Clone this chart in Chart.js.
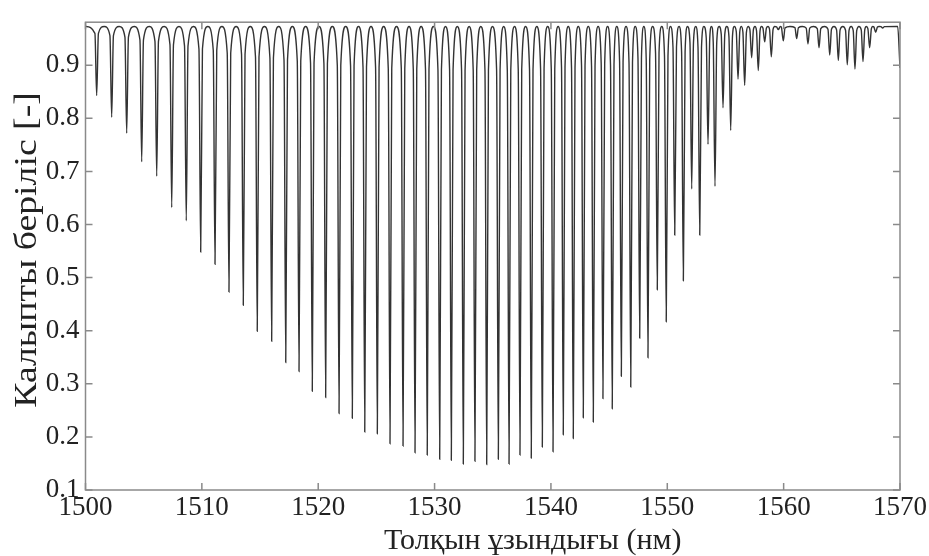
<!DOCTYPE html>
<html>
<head>
<meta charset="utf-8">
<script src="https://cdn.jsdelivr.net/npm/chart.js@4.4.0/dist/chart.umd.min.js"></script>
<style>
html, body { margin: 0; padding: 0; background: #fff; }
</style>
</head>
<body>
<canvas id="myChart" width="929" height="556"></canvas>
<script>
// резонанс минимумдары (толқын ұзындығы, нм) және олардың тереңдігі
var dipNm = [
  1500.96, 1502.25, 1503.54, 1504.83, 1506.12, 1507.41, 1508.66, 1509.90, 1511.13,
  1512.33, 1513.56, 1514.76, 1516.00, 1517.21, 1518.35, 1519.49, 1520.64, 1521.79, 1522.93, 1524.00,
  1525.08, 1526.17, 1527.29, 1528.32, 1529.37, 1530.44, 1531.44, 1532.47, 1533.47, 1534.48, 1535.48,
  1536.40, 1537.34, 1538.31, 1539.26, 1540.18, 1541.06, 1541.92, 1542.78, 1543.64, 1544.47, 1545.27,
  1546.05, 1546.86, 1547.63,
  1548.34, 1549.14, 1549.91, 1550.64, 1551.38, 1552.10, 1552.79, 1553.50, 1554.10, 1554.79, 1555.45,
  1556.08, 1556.65, 1557.25, 1557.82, 1558.37, 1558.94, 1559.54, 1559.97,
  1561.12, 1562.09, 1563.04, 1563.96, 1564.70, 1565.47, 1566.13, 1566.82, 1567.39, 1567.91, 1568.51
];
var dipMin = [
  0.843, 0.802, 0.772, 0.718, 0.691, 0.632, 0.607, 0.548, 0.525,
  0.473, 0.448, 0.399, 0.380, 0.340, 0.323, 0.286, 0.274, 0.244, 0.235, 0.209,
  0.206, 0.187, 0.183, 0.170, 0.166, 0.158, 0.156, 0.149, 0.154, 0.148, 0.158,
  0.149, 0.166, 0.160, 0.181, 0.172, 0.204, 0.197, 0.236, 0.228, 0.272, 0.253,
  0.314, 0.294, 0.386,
  0.349, 0.477, 0.417, 0.580, 0.494, 0.667, 0.580, 0.751, 0.672, 0.820, 0.777,
  0.874, 0.862, 0.914, 0.890, 0.944, 0.916, 0.967, 0.946,
  0.950, 0.940, 0.933, 0.919, 0.909, 0.901, 0.893, 0.907, 0.933, 0.962, 0.970
];
var topLevel = 0.973;   // максимум деңгейі
var endValue = 0.895;   // 1570 нм-дегі мән
var xTicks = [1500, 1510, 1520, 1530, 1540, 1550, 1560, 1570];
var yTicks = [0.1, 0.2, 0.3, 0.4, 0.5, 0.6, 0.7, 0.8, 0.9];
var xTitle = 'Толқын ұзындығы (нм)';
var yTitle = 'Калыпты берiлiс [-]';

var shoulder = 0.15; // nm, dip wall half width

var pts = [{x: 1500, y: topLevel}];
for (var i = 0; i < dipNm.length; i++) {
  if (i > 0) pts.push({x: (dipNm[i - 1] + dipNm[i]) / 2, y: topLevel});
  var sh = topLevel - 0.1 * (topLevel - dipMin[i]);
  pts.push({x: dipNm[i] - shoulder, y: sh});
  pts.push({x: dipNm[i], y: dipMin[i]});
  pts.push({x: dipNm[i] + shoulder, y: sh});
}
pts.push({x: 1569.8, y: topLevel});
pts.push({x: 1570, y: endValue});

var serif = "'Liberation Serif', 'Times New Roman', serif";

var frame = {
  id: 'frame',
  afterDraw: function (chart) {
    var ctx = chart.ctx, a = chart.chartArea;
    var xs = chart.scales.x, ys = chart.scales.y;
    ctx.save();
    ctx.strokeStyle = '#8a8a8a';
    ctx.lineWidth = 1.5;
    ctx.strokeRect(a.left, a.top, a.right - a.left, a.bottom - a.top);
    ctx.beginPath();
    xTicks.forEach(function (t) {
      var px = xs.getPixelForValue(t);
      ctx.moveTo(px, a.bottom); ctx.lineTo(px, a.bottom - 7);
      ctx.moveTo(px, a.top); ctx.lineTo(px, a.top + 7);
    });
    yTicks.forEach(function (t) {
      var py = ys.getPixelForValue(t);
      ctx.moveTo(a.left, py); ctx.lineTo(a.left + 7, py);
      ctx.moveTo(a.right, py); ctx.lineTo(a.right - 7, py);
    });
    ctx.stroke();
    // axis titles
    ctx.fillStyle = '#222';
    ctx.font = '30px ' + serif;
    ctx.textAlign = 'center';
    ctx.textBaseline = 'middle';
    ctx.fillText(xTitle, a.left + (a.right - a.left) / 2 + 40, 541);
    ctx.translate(28, 250);
    ctx.rotate(-Math.PI / 2);
    ctx.scale(1.18, 1);
    ctx.font = '32px ' + serif;
    ctx.fillText(yTitle, 0, 0);
    ctx.restore();
  }
};

new Chart('myChart', {
  type: 'line',
  data: {
    datasets: [{
      data: pts,
      borderColor: '#333',
      borderWidth: 1.4,
      pointRadius: 0,
      cubicInterpolationMode: 'monotone',
      fill: false
    }]
  },
  options: {
    responsive: false,
    animation: false,
    devicePixelRatio: 1,
    events: [],
    layout: { padding: { top: 14, right: 29, left: 0, bottom: 0 } },
    plugins: { legend: { display: false }, tooltip: { enabled: false } },
    scales: {
      x: {
        type: 'linear',
        min: 1500,
        max: 1570,
        afterBuildTicks: function (s) { s.ticks = xTicks.map(function (v) { return {value: v}; }); },
        afterFit: function (s) { s.height = 66; },
        grid: { display: false, drawTicks: false },
        border: { display: false },
        ticks: {
          font: { family: serif, size: 27 },
          color: '#222',
          padding: 2,
          maxRotation: 0,
          callback: function (v) { return String(v); }
        }
      },
      y: {
        min: 0.1,
        max: 0.981,
        afterBuildTicks: function (s) { s.ticks = yTicks.map(function (v) { return {value: v}; }); },
        afterFit: function (s) { s.width = 85.5; },
        grid: { display: false, drawTicks: false },
        border: { display: false },
        ticks: {
          font: { family: serif, size: 27 },
          color: '#222',
          padding: 6,
          callback: function (v) { return Number(v).toFixed(1); }
        }
      }
    }
  },
  plugins: [frame]
});
</script>
</body>
</html>
